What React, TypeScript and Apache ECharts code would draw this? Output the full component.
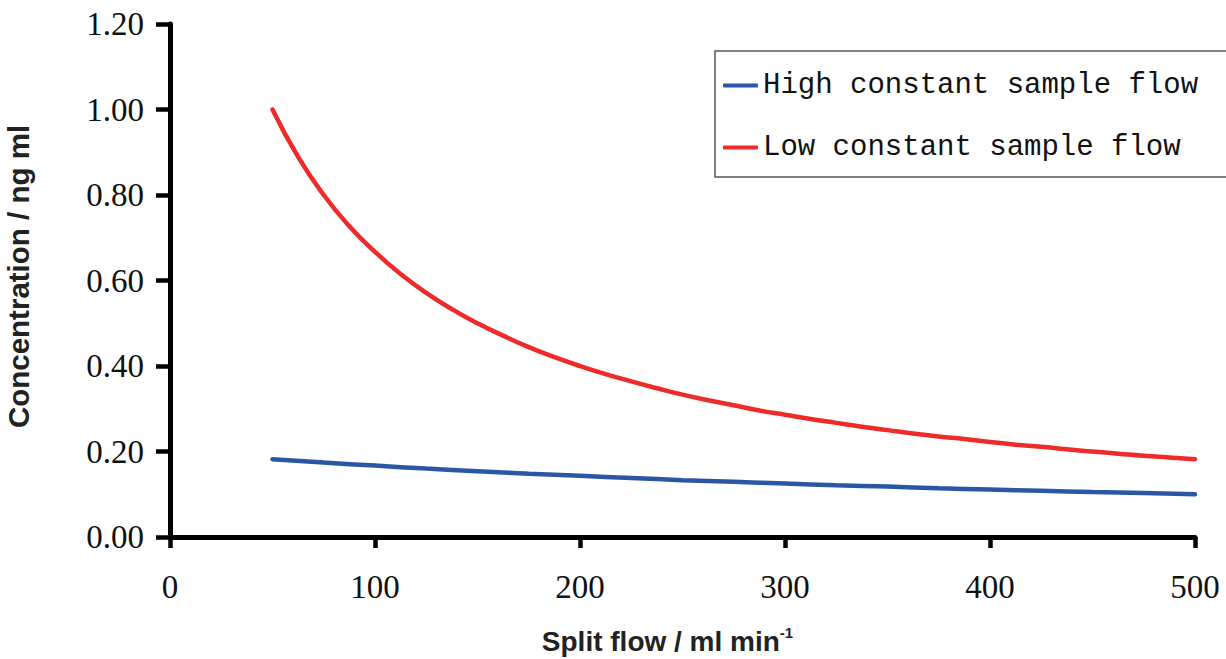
import React, { useEffect, useRef } from "react";
import * as echarts from "echarts";

const splitFlowHigh = [50, 75, 100, 125, 150, 175, 200, 225, 250, 275, 300, 325, 350, 375, 400, 425, 450, 475, 500];
const highFlow = [0.182, 0.174, 0.167, 0.16, 0.154, 0.148, 0.143, 0.138, 0.133, 0.129, 0.125, 0.121, 0.118, 0.114, 0.111, 0.108, 0.105, 0.103, 0.1];
const splitFlowLow = [50, 62.5, 75, 87.5, 100, 112.5, 125, 137.5, 150, 162.5, 175, 187.5, 200, 212.5, 225, 237.5, 250, 262.5, 275, 287.5, 300, 312.5, 325, 337.5, 350, 362.5, 375, 387.5, 400, 412.5, 425, 437.5, 450, 462.5, 475, 487.5, 500];
const lowFlow = [1.0, 0.889, 0.8, 0.727, 0.667, 0.615, 0.571, 0.533, 0.5, 0.471, 0.444, 0.421, 0.4, 0.381, 0.364, 0.348, 0.333, 0.32, 0.308, 0.296, 0.286, 0.276, 0.267, 0.258, 0.25, 0.242, 0.235, 0.229, 0.222, 0.216, 0.211, 0.205, 0.2, 0.195, 0.19, 0.186, 0.182];
const seriesNames = ["High constant sample flow", "Low constant sample flow"];
const xTitle = "Split flow / ml min";
const yTitle = "Concentration / ng ml";

export default function App() {
  const ref = useRef<HTMLDivElement>(null);
  useEffect(() => {
    document.body.style.margin = "0";
    if (!ref.current) return;
    const chart = echarts.init(ref.current, undefined, { renderer: "svg" });
    const serif = "'Liberation Serif', 'DejaVu Serif', serif";
    const mono = "'Liberation Mono', 'DejaVu Sans Mono', monospace";
    const sans = "'Liberation Sans', Arial, sans-serif";
    chart.setOption({
      animation: false,
      backgroundColor: "#ffffff",
      grid: { left: 170, right: 31, top: 24, bottom: 122, containLabel: false, outerBoundsMode: "none" },
      legend: {
        orient: "vertical",
        left: 715,
        top: 51,
        padding: [19, 40, 14, 8],
        itemGap: 31,
        itemWidth: 35,
        itemHeight: 4,
        icon: "roundRect",
        borderColor: "#555555",
        borderWidth: 1.5,
        textStyle: { fontFamily: mono, fontSize: 29, color: "#111111", lineHeight: 31 },
        data: seriesNames,
      },
      xAxis: {
        type: "value",
        min: 0,
        max: 500,
        interval: 100,
        name: xTitle + "{sup|-1}",
        nameLocation: "middle",
        nameGap: 88,
        nameTextStyle: {
          fontFamily: sans,
          fontWeight: "bold",
          fontSize: 28,
          color: "#222222",
          lineHeight: 32,
          padding: [0, 30, 0, 0],
          rich: {
            sup: { fontFamily: sans, fontWeight: "bold", fontSize: 15, color: "#222222", verticalAlign: "top", lineHeight: 22 },
          },
        },
        axisLine: { lineStyle: { color: "#000000", width: 5 } },
        axisTick: { show: true, inside: false, length: 11, lineStyle: { color: "#000000", width: 4.5 } },
        axisLabel: { fontFamily: serif, fontSize: 33, color: "#111111", margin: 33 },
        splitLine: { show: false },
      },
      yAxis: {
        type: "value",
        min: 0,
        max: 1.2,
        interval: 0.2,
        name: yTitle,
        nameLocation: "middle",
        nameGap: 137,
        nameRotate: 90,
        nameTextStyle: {
          fontFamily: sans,
          fontWeight: "bold",
          fontSize: 29.5,
          color: "#222222",
          padding: [0, 0, 0, 8],
        },
        axisLine: { show: true, lineStyle: { color: "#000000", width: 5 } },
        axisTick: { show: true, inside: false, length: 14, lineStyle: { color: "#000000", width: 4.5 } },
        axisLabel: {
          fontFamily: serif,
          fontSize: 33,
          color: "#111111",
          margin: 26,
          formatter: (v: number) => v.toFixed(2),
        },
        splitLine: { show: false },
      },
      series: [
        {
          name: seriesNames[0],
          type: "line",
          smooth: true,
          showSymbol: false,
          symbol: "none",
          data: splitFlowHigh.map((x, i) => [x, highFlow[i]]),
          itemStyle: { color: "#2A56A6" },
          lineStyle: { color: "#2A56A6", width: 4.5, cap: "round" },
        },
        {
          name: seriesNames[1],
          type: "line",
          smooth: true,
          showSymbol: false,
          symbol: "none",
          data: splitFlowLow.map((x, i) => [x, lowFlow[i]]),
          itemStyle: { color: "#EE2A2A" },
          lineStyle: { color: "#EE2A2A", width: 4.5, cap: "round" },
        },
      ],
    });
    return () => chart.dispose();
  }, []);
  return <div ref={ref} style={{ width: 1226, height: 659 }} />;
}
